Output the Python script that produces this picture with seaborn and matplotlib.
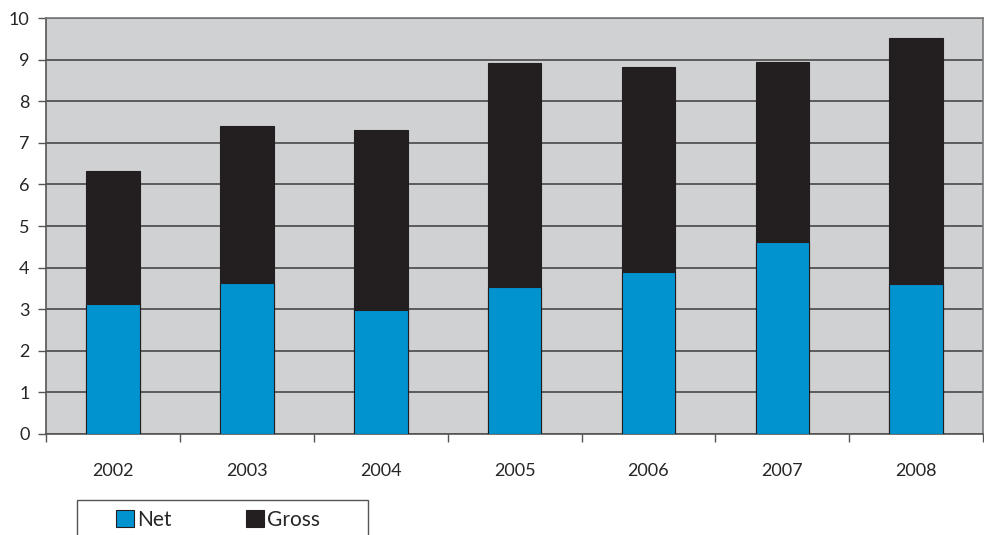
import numpy as np
import pandas as pd
import seaborn as sns
import matplotlib.pyplot as plt
from matplotlib.patches import Patch, Rectangle

years = ["2002", "2003", "2004", "2005", "2006", "2007", "2008"]
net = [3.12, 3.63, 2.98, 3.53, 3.89, 4.61, 3.61]
gross = [6.32, 7.40, 7.31, 8.92, 8.83, 8.94, 9.52]

BLUE = "#0093cf"
BLACK = "#231f20"

sns.set_style("ticks")
plt.rcParams["font.family"] = ["Lato", "DejaVu Sans"]

fig = plt.figure(figsize=(9.84, 5.35), dpi=100)
ax = fig.add_axes([0.047, 0.189, 0.952, 0.777])
ax.set_facecolor("#d0d1d3")

sns.barplot(x=years, y=gross, color=BLACK, width=0.4, edgecolor=BLACK,
            linewidth=0.8, saturation=1, ax=ax, zorder=3)
sns.barplot(x=years, y=net, color=BLUE, width=0.4, edgecolor=BLACK,
            linewidth=0.8, saturation=1, ax=ax, zorder=4)

ax.set_ylim(0, 10)
ax.set_xlim(-0.5, 6.5)
ax.set_yticks(range(0, 11))
ax.yaxis.grid(True, color="#3c3c3c", linewidth=1.1, zorder=1)
ax.set_axisbelow(True)

# year labels sit between the boundary ticks
ax.set_xticks(range(len(years)))
ax.set_xticklabels(years)
ax.tick_params(axis="x", which="major", length=0, pad=21, labelsize=13)
ax.set_xticks(np.arange(-0.5, 7, 1), minor=True)
ax.tick_params(axis="x", which="minor", length=6, width=1, color="#555555")
ax.tick_params(axis="y", length=6, width=1, color="#555555", pad=6, labelsize=13)

for s in ["top", "right", "left", "bottom"]:
    ax.spines[s].set_color("#7a7a7a")
    ax.spines[s].set_linewidth(1.2)
ax.spines["bottom"].set_color("#555555")
ax.spines["left"].set_color("#555555")

ax.set_xlabel(None)
ax.set_ylabel(None)

# legend box runs off the bottom edge like the original
fig.add_artist(Rectangle((77 / 984, -0.02), 291 / 984, 0.085,
                         transform=fig.transFigure, fill=False,
                         edgecolor="#555555", linewidth=1.0))
handles = [Patch(fc=BLUE, ec=BLACK, lw=0.8), Patch(fc=BLACK, ec=BLACK, lw=0.8)]
leg = fig.legend(handles, ["Net", "Gross"], loc="upper left",
                 bbox_to_anchor=(116 / 984, 25 / 535),
                 ncol=2, frameon=False, fontsize=15,
                 borderpad=0, handlelength=0.85, handleheight=0.85,
                 handletextpad=0.15, columnspacing=3.6, borderaxespad=0)

fig.savefig("out.png", dpi=100)
